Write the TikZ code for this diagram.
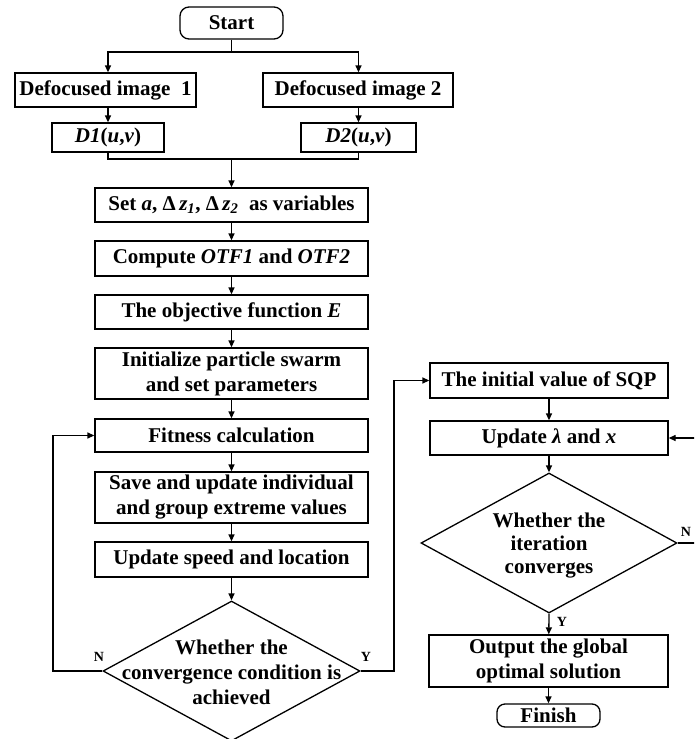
\documentclass[tikz,border=0pt]{standalone}
\usepackage{fontspec}
\setmainfont{Liberation Serif}
\usetikzlibrary{arrows.meta,shapes.geometric}
\tikzset{
  box/.style={draw,line width=1.3pt,inner sep=0pt,align=center,font=\fontsize{21}{25}\selectfont\bfseries},
  term/.style={box,rounded corners=9pt},
  dia/.style={draw,line width=1.3pt,diamond,inner sep=0pt,minimum width=257pt,minimum height=140pt},
  dtext/.style={align=center,inner sep=0pt,font=\fontsize{21}{25}\selectfont\bfseries},
  lbl/.style={inner sep=0pt,font=\fontsize{14}{16}\selectfont\bfseries},
  conn/.style={line width=1.3pt},
  arr/.style={conn,-{Triangle[length=7pt,width=6pt]}}
}
\begin{document}
\begin{tikzpicture}[x=1pt,y=-1pt]
\useasboundingbox (0,0) rectangle (694,739);
\clip (0,0) rectangle (694,739);
% left column
\node[term,minimum width=103pt,minimum height=32pt] (start) at (231.5,23) {Start};
\node[box,minimum width=181pt,minimum height=34pt] (img1) at (105.5,90) {Defocused image~~1};
\node[box,minimum width=190pt,minimum height=34pt] (img2) at (358,90) {Defocused image 2};
\node[box,minimum width=112pt,minimum height=29pt] (D1) at (108,137.5) {\textit{D1}(\textit{u},\textit{v})};
\node[box,minimum width=115pt,minimum height=29pt] (D2) at (358.5,137.5) {\textit{D2}(\textit{u},\textit{v})};
\node[box,minimum width=273pt,minimum height=34pt] (setv) at (231.5,205) {Set \textit{a}, Δ\,\textit{z}\textsubscript{\textit{1}}, Δ\,\textit{z}\textsubscript{\textit{2}}~ as variables};
\node[box,minimum width=273pt,minimum height=35pt] (otf) at (231.5,258.5) {Compute \textit{OTF1} and \textit{OTF2}};
\node[box,minimum width=273pt,minimum height=34pt] (obj) at (231.5,312) {The objective function \textit{E}};
\node[box,minimum width=273pt,minimum height=51pt] (init) at (231.5,373.5) {Initialize particle swarm\\and set parameters};
\node[box,minimum width=273pt,minimum height=33pt] (fit) at (231.5,435.5) {Fitness calculation};
\node[box,minimum width=273pt,minimum height=51pt] (save) at (231.5,497.5) {Save and update individual\\and group extreme values};
\node[box,minimum width=273pt,minimum height=35pt] (upd) at (231.5,559.5) {Update speed and location};
\node[dia] (c1) at (231.5,671) {};
\node[dtext] (c1t) at (231.5,672) {Whether the\\convergence condition is\\achieved};
% right column
\node[box,minimum width=238pt,minimum height=35pt] (sqp) at (549,380.5) {The initial value of SQP};
\node[box,minimum width=238pt,minimum height=34pt] (lam) at (549,438) {Update \textit{λ} and \textit{x}};
\node[dia,minimum width=256pt] (c2) at (549,543) {};
\node[dtext,font=\fontsize{21}{23}\selectfont\bfseries] (c2t) at (549,546) {Whether the\\iteration\\converges};
\node[box,minimum width=239pt,minimum height=52pt] (out) at (548.5,661) {Output the global\\optimal solution};
\node[term,minimum width=103pt,minimum height=23pt,rounded corners=8pt] (fin) at (548.5,715.5) {Finish};
% labels
\node[lbl] (nl) at (99,657) {N};
\node[lbl] (yl) at (366,657) {Y};
\node[lbl] (nr) at (686,532) {N};
\node[lbl] (yr) at (562,622) {Y};
% junctions
\coordinate (j1) at (231.5,52);
\coordinate (j2) at (231.5,159);
\coordinate (lx) at (53,671);
\coordinate (rx) at (394,671);
\coordinate (ex) at (720,543);
% connectors
\draw[conn] (start.south) -- (j1);
\draw[arr] (j1) -| (D1.north |- img1.north);
\draw[arr] (j1) -| (D2.north |- img2.north);
\draw[arr] (D1.north |- img1.south) -- (D1.north);
\draw[arr] (D2.north |- img2.south) -- (D2.north);
\draw[conn] (D1.south) |- (j2) -| (D2.south);
\draw[arr] (j2) -- (setv.north);
\draw[arr] (setv) -- (otf);
\draw[arr] (otf) -- (obj);
\draw[arr] (obj) -- (init);
\draw[arr] (init) -- (fit);
\draw[arr] (fit) -- (save);
\draw[arr] (save) -- (upd);
\draw[arr] (upd) -- (c1.north);
\draw[arr] (c1.west) -- (lx) |- (fit.west);
\draw[arr] (c1.east) -- (rx) |- (sqp.west);
\draw[arr] (sqp) -- (lam);
\draw[arr] (lam) -- (c2.north);
\draw[arr] (c2.south) -- (out);
\draw[arr] (out) -- (fin);
\draw[arr] (c2.east) -- (ex) |- (lam.east);
\end{tikzpicture}
\end{document}
